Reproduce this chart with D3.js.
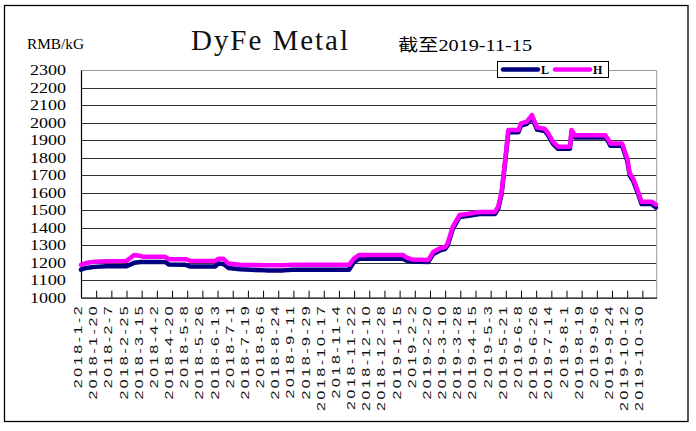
<!DOCTYPE html>
<html>
<head>
<meta charset="utf-8">
<script src="https://cdn.jsdelivr.net/npm/d3@7"></script>
<style>
html,body{margin:0;padding:0;background:#fff;}
svg{display:block;}
</style>
</head>
<body>
<svg id="chart" width="696" height="431"></svg>
<script>
// ---- data ----
const dates = ["2018-1-2","2018-1-8","2018-1-18","2018-2-1","2018-2-25","2018-3-2","2018-3-6","2018-3-14","2018-3-16","2018-4-12","2018-4-16","2018-5-6","2018-5-12","2018-6-10","2018-6-14","2018-6-20","2018-6-26","2018-7-10","2018-8-10","2018-8-30","2018-9-10","2018-11-16","2018-11-22","2018-11-28","2019-1-19","2019-1-23","2019-1-30","2019-2-18","2019-2-24","2019-3-4","2019-3-10","2019-3-13","2019-3-19","2019-3-27","2019-4-5","2019-4-20","2019-5-8","2019-5-12","2019-5-16","2019-5-20","2019-5-24","2019-6-5","2019-6-8","2019-6-15","2019-6-21","2019-6-27","2019-7-6","2019-7-10","2019-7-16","2019-7-22","2019-8-5","2019-8-7","2019-8-11","2019-9-16","2019-9-20","2019-9-22","2019-10-6","2019-10-12","2019-10-15","2019-10-19","2019-10-25","2019-10-29","2019-11-10","2019-11-15"];
const valuesH = [1188,1198,1205,1208,1210,1228,1244,1238,1234,1234,1220,1220,1210,1210,1222,1222,1195,1188,1185,1185,1188,1188,1225,1244,1244,1230,1218,1215,1262,1282,1290,1310,1405,1472,1478,1490,1490,1520,1605,1776,1957,1957,1995,2005,2043,1972,1965,1940,1890,1862,1862,1957,1928,1928,1900,1881,1881,1795,1710,1681,1605,1548,1548,1532];
const valuesL = [1160,1170,1176,1180,1180,1190,1200,1204,1204,1204,1190,1188,1178,1178,1195,1192,1170,1162,1156,1156,1160,1160,1205,1222,1222,1212,1206,1204,1250,1270,1278,1298,1392,1460,1466,1478,1478,1508,1592,1765,1945,1945,1983,1993,2030,1960,1952,1928,1878,1850,1850,1945,1915,1915,1888,1868,1868,1782,1698,1668,1592,1535,1535,1515];
const xTickLabels = ["2018-1-2","2018-1-20","2018-2-7","2018-2-25","2018-3-15","2018-4-2","2018-4-20","2018-5-8","2018-5-26","2018-6-13","2018-7-1","2018-7-19","2018-8-6","2018-8-24","2018-9-11","2018-9-29","2018-10-17","2018-11-4","2018-11-22","2018-12-10","2018-12-28","2019-1-15","2019-2-2","2019-2-20","2019-3-10","2019-3-28","2019-4-15","2019-5-3","2019-5-21","2019-6-8","2019-6-26","2019-7-14","2019-8-1","2019-8-19","2019-9-6","2019-9-24","2019-10-12","2019-10-30"];
const yTicks = [1000,1100,1200,1300,1400,1500,1600,1700,1800,1900,2000,2100,2200,2300];
const seriesNames = ["L","H"];
const seriesColors = ["#000080","#ff00ff"];
const titleText = "DyFe Metal";
const unitText = "RMB/kG";
const dateText = "截至2019-11-15";
const axisStart = "2018-1-2", axisEnd = "2019-11-16";

// ---- helpers ----
function parse(s){const [y,m,d]=s.split("-").map(Number);return new Date(Date.UTC(y,m-1,d));}

const svg = d3.select("#chart");
const L = 81, R = 656.7, T = 70, B = 297.7;

const x = d3.scaleUtc().domain([parse(axisStart), parse(axisEnd)]).range([L, R]);
const y = d3.scaleLinear().domain([1000, 2300]).range([B, T]);

// outer frame
svg.append("rect").attr("x",4.5).attr("y",5.5).attr("width",683.5).attr("height",416)
  .attr("fill","#fff").attr("stroke","#000").attr("stroke-width",1.3);

// gridlines
svg.append("g").selectAll("line").data(yTicks.filter(v=>v>1000 && v<2300)).join("line")
  .attr("x1",L).attr("x2",R).attr("y1",d=>Math.round(y(d))+0.5).attr("y2",d=>Math.round(y(d))+0.5)
  .attr("stroke","#333").attr("stroke-width",1);

// plot border top/right (grey)
svg.append("path").attr("d",`M${L},${Math.round(T)+0.5}H${R}V${B}`).attr("fill","none")
  .attr("stroke","#999").attr("stroke-width",1);

// y axis
const yAxis = svg.append("g").attr("transform",`translate(${L},0)`)
  .call(d3.axisLeft(y).tickValues(yTicks).tickSize(0).tickPadding(15).tickFormat(d3.format("d")));
yAxis.select(".domain").attr("stroke","#000").attr("stroke-width",1.2);
yAxis.selectAll("text").attr("font-family","Liberation Serif, DejaVu Serif, serif")
  .attr("font-size",15).attr("fill","#000").attr("textLength",36).attr("lengthAdjust","spacingAndGlyphs");

// x axis
const tickDates = xTickLabels.map(parse);
const xAxis = svg.append("g").attr("transform",`translate(0,${B})`)
  .call(d3.axisBottom(x).tickValues(tickDates).tickSize(-7).tickSizeOuter(0)
    .tickFormat((d,i)=>xTickLabels[i]));
xAxis.select(".domain").attr("stroke","#000").attr("stroke-width",1.2);
xAxis.selectAll(".tick line").attr("stroke","#000");
xAxis.selectAll("text")
  .attr("font-family","Liberation Sans, Arial, sans-serif").attr("font-size",10).attr("fill","#111")
  .attr("text-anchor","end").attr("x",0).attr("y",0).attr("dy","0.35em")
  .attr("letter-spacing","1.6px")
  .attr("transform","translate(-3,6) rotate(-90) scale(1.6,1)");

// lines
const line = d3.line().x((d,i)=>x(parse(dates[i]))).y(d=>y(d));
[valuesL, valuesH].forEach((vals,k)=>{
  svg.append("path").datum(vals).attr("d",line).attr("fill","none")
    .attr("stroke",seriesColors[k]).attr("stroke-width",4.5)
    .attr("stroke-linejoin","round").attr("stroke-linecap","round");
});

// legend
const lg = svg.append("g");
lg.append("rect").attr("x",497.5).attr("y",61.5).attr("width",111).attr("height",16)
  .attr("fill","#fff").attr("stroke","#000").attr("stroke-width",1);
const legX = [[503,538,541],[555,590,593]];
seriesNames.forEach((n,k)=>{
  lg.append("line").attr("x1",legX[k][0]).attr("x2",legX[k][1]).attr("y1",69.5).attr("y2",69.5)
    .attr("stroke",seriesColors[k]).attr("stroke-width",4.5).attr("stroke-linecap","round");
  lg.append("text").attr("x",legX[k][2]).attr("y",74).text(n)
    .attr("font-family","Liberation Serif, serif").attr("font-size",12).attr("font-weight","bold").attr("fill","#000");
});

// titles
svg.append("text").attr("x",27).attr("y",48.5).text(unitText)
  .attr("font-family","Liberation Serif, serif").attr("font-size",15).attr("fill","#000")
  .attr("textLength",57).attr("lengthAdjust","spacingAndGlyphs");
svg.append("text").attr("x",191).attr("y",50).text(titleText)
  .attr("font-family","Liberation Serif, serif").attr("font-size",29).attr("fill","#111")
  .attr("textLength",157).attr("lengthAdjust","spacing");
svg.append("text").attr("x",398).attr("y",50.5).text(dateText)
  .attr("font-family","Liberation Serif, Noto Sans CJK SC, serif").attr("font-size",17).attr("fill","#000")
  .attr("textLength",134).attr("lengthAdjust","spacingAndGlyphs");
</script>
</body>
</html>
